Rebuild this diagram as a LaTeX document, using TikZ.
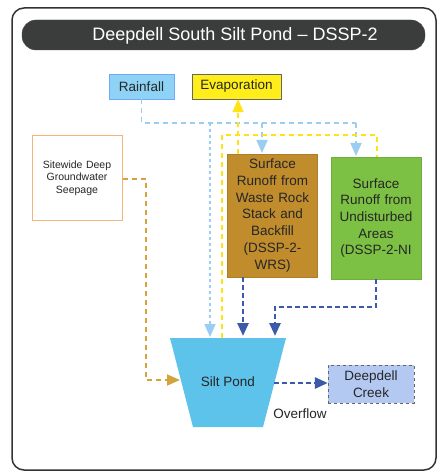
\documentclass[tikz,border=0pt]{standalone}
\usepackage{fontspec}
\setmainfont{Liberation Sans}
\usetikzlibrary{arrows.meta}
\definecolor{rainblue}{HTML}{8ED3F5}
\definecolor{lineblue}{HTML}{9ACDF2}
\definecolor{evapyellow}{HTML}{FFEE1A}
\definecolor{brownbox}{HTML}{C08C2C}
\definecolor{greenbox}{HTML}{7CC143}
\definecolor{pondblue}{HTML}{5EC3EA}
\definecolor{darkblue}{HTML}{3B5BAA}
\definecolor{creekblue}{HTML}{B3C9F2}
\definecolor{seeporange}{HTML}{F3B47A}
\definecolor{seepline}{HTML}{D4A43C}
\definecolor{titlegray}{HTML}{3A3D3C}
\tikzset{
  txt/.style={font=\fontsize{13.5}{16.7}\selectfont, text=black!85},
  flowbox/.style={txt, draw, align=center, inner sep=2pt},
  tip/.style={-{Triangle[length=13pt,width=11pt]}},
  rainline/.style={draw=lineblue, line width=1.6pt, dash pattern=on 5pt off 4pt},
  evapline/.style={draw=evapyellow!90!orange, line width=1.8pt, dash pattern=on 5pt off 4pt},
  runoffline/.style={draw=darkblue, line width=2.8pt, dash pattern=on 5pt off 3pt},
  seepflow/.style={draw=seepline, line width=1.8pt, dash pattern=on 5pt off 4pt},
}
\begin{document}
\begin{tikzpicture}[x=1pt,y=-1pt]
\useasboundingbox (0,0) rectangle (438,473);
\fill[white] (0,0) rectangle (438,473);
% outer frame
\draw[line width=1.5pt, draw=black!80, rounded corners=12pt] (12,8) rectangle (436,470);
% title bar
\draw[fill=titlegray, draw=black!70, rounded corners=14pt] (22,20) rectangle (425,50);
\node[text=white, font=\fontsize{18}{20}\selectfont] (title) at (235,36) {Deepdell South Silt Pond -- DSSP-2};

% boxes
\node[flowbox, draw=rainblue!80!blue, fill=rainblue, minimum width=65pt, minimum height=25pt] (rain) at (141.5,86.5) {Rainfall};
\node[flowbox, draw=black!60, fill=evapyellow, minimum width=89pt, minimum height=25pt] (evap) at (236.5,86.5) {Evaporation};
\node[flowbox, draw=seeporange, fill=white, line width=1pt, minimum width=90pt, minimum height=84pt, text width=86pt, font=\fontsize{10.5}{12.7}\selectfont] (seep) at (77,178) {Sitewide Deep\\Groundwater\\Seepage};
\node[flowbox, draw=brownbox!90!black, fill=brownbox, minimum width=89pt, minimum height=123pt, text width=86pt] (wrs) at (272.5,215.5) {Surface\\Runoff from\\Waste Rock\\Stack and\\Backfill\\(DSSP-2-\\WRS)};
\node[flowbox, draw=greenbox!90!black, fill=greenbox, minimum width=88pt, minimum height=122pt, text width=86pt] (ni) at (376,218) {Surface\\Runoff from\\Undisturbed\\Areas\\(DSSP-2-NI};
\node[flowbox, draw=black!60, dashed, fill=creekblue, minimum width=86pt, minimum height=38pt] (creek) at (371,384) {Deepdell\\Creek};

% silt pond
\coordinate (ptl) at (170,338);
\coordinate (ptr) at (286,338);
\coordinate (pbr) at (263,427);
\coordinate (pbl) at (193,427);
\fill[pondblue] (ptl) -- (ptr) -- (pbr) -- (pbl) -- cycle;
\node[txt] (pond) at (228,382) {Silt Pond};
\node[txt] (overflow) at (300,414) {Overflow};

% rainfall connectors
\coordinate (r1) at (142,123);
\coordinate (r2) at (356,123);
\coordinate (rb) at (262,123);
\coordinate (rp) at (210,123);
\coordinate (rwrs) at (262,153);
\coordinate (rni) at (356,156);
\coordinate (rpond) at (210,337);
\draw[rainline] (rain.south) |- (r2);
\draw[rainline, tip] (r2) -- (rni);
\draw[rainline, tip] (rb) -- (rwrs);
\draw[rainline, dash pattern=on 3pt off 3pt, tip] (rp) -- (rpond);

% evaporation connectors
\coordinate (e1) at (222,338);
\coordinate (e2) at (222,135);
\coordinate (e3) at (377,135);
\coordinate (e4) at (377,157);
\coordinate (ewrs) at (238,154);
\draw[evapline] (e1) -- (e2) -- (e3) -- (e4);
\draw[evapline, tip] (ewrs) -- (evap.south -| ewrs);

% runoff connectors
\coordinate (w2) at (243,336);
\coordinate (n1) at (376,307);
\coordinate (n2) at (275,307);
\coordinate (n3) at (275,336);
\draw[runoffline, tip] (wrs.south -| w2) -- (w2);
\draw[runoffline, tip] (ni.south) -- (n1) -- (n2) -- (n3);

% seepage connector
\coordinate (s1) at (146,179);
\coordinate (s2) at (146,380);
\coordinate (s3) at (180,380);
\draw[seepflow, tip] (seep.east |- s1) -- (s1) -- (s2) -- (s3);

% overflow
\coordinate (o1) at (274,383);
\draw[runoffline, tip] (o1) -- (creek.west |- o1);
\end{tikzpicture}
\end{document}
